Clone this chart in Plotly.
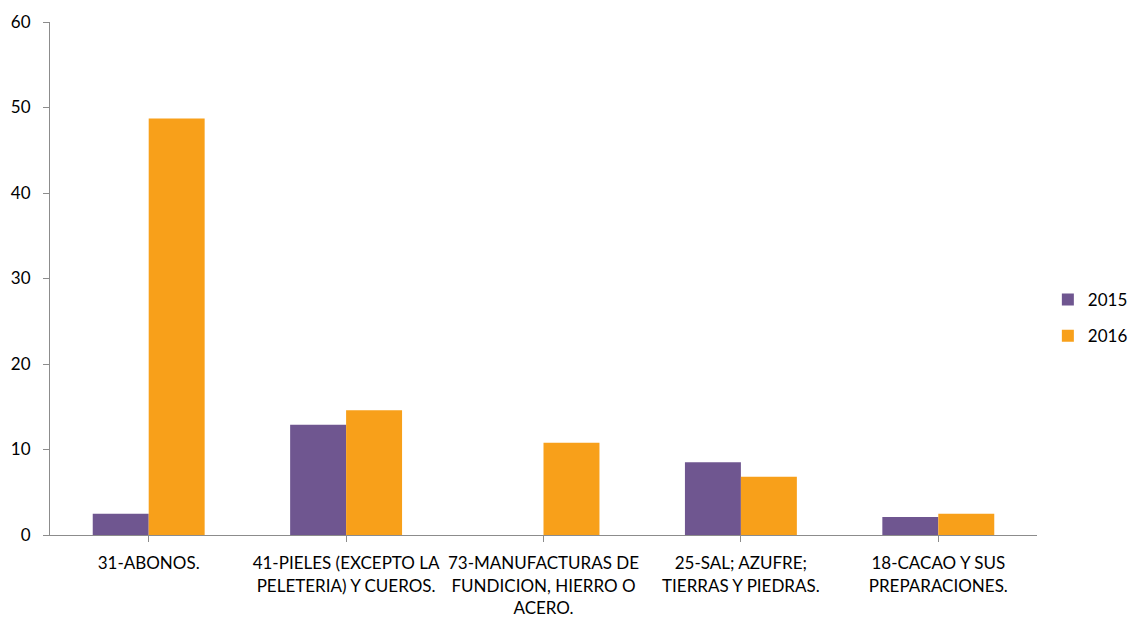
import plotly.graph_objects as go

categories = ["31-ABONOS.", "41-PIELES (EXCEPTO LA<br>PELETERIA) Y CUEROS.",
              "73-MANUFACTURAS DE<br>FUNDICION, HIERRO O<br>ACERO.",
              "25-SAL; AZUFRE;<br>TIERRAS Y PIEDRAS.", "18-CACAO Y SUS<br>PREPARACIONES."]
v2015 = [2.5, 12.9, 0, 8.5, 2.1]
v2016 = [48.7, 14.6, 10.8, 6.8, 2.5]
y_ticks = [0, 10, 20, 30, 40, 50, 60]

fig = go.Figure()
fig.add_trace(go.Bar(name="2015", x=categories, y=v2015, legendgroup="a",
                     marker=dict(color="#6f5690", line=dict(width=0))))
fig.add_trace(go.Bar(name="2016", x=categories, y=v2016, legendgroup="b",
                     marker=dict(color="#f8a01a", line=dict(width=0))))

fig.update_layout(
    width=1132, height=619,
    margin=dict(l=50, r=95, t=22, b=84, autoexpand=False),
    paper_bgcolor="white", plot_bgcolor="white",
    font=dict(family="Lato, Open Sans, sans-serif", size=13, color="#000000"),
    barmode="group", bargap=0.433, bargroupgap=0.0,
    legend=dict(x=1.011, y=0.423, xanchor="left", yanchor="middle",
                font=dict(size=17), tracegroupgap=11, itemwidth=30,
                traceorder="grouped"),
    showlegend=True,
)
fig.update_xaxes(showline=True, linecolor="#8c8c8c", linewidth=1, ticks="outside",
                 tickcolor="#8c8c8c", ticklen=6, showgrid=False, tickangle=0,
                 tickfont=dict(size=17), automargin=False, ticklabelstandoff=7)
fig.update_yaxes(range=[0, 60], tickvals=y_ticks, showline=True, linecolor="#8c8c8c",
                 linewidth=1, ticks="outside", tickcolor="#8c8c8c", ticklen=6,
                 showgrid=False, zeroline=False, tickfont=dict(size=17),
                 automargin=False, ticklabelstandoff=9)

fig.write_html("out.html", config={"displayModeBar": False},
               post_script="document.body.style.margin='0';document.body.style.overflow='hidden';")
